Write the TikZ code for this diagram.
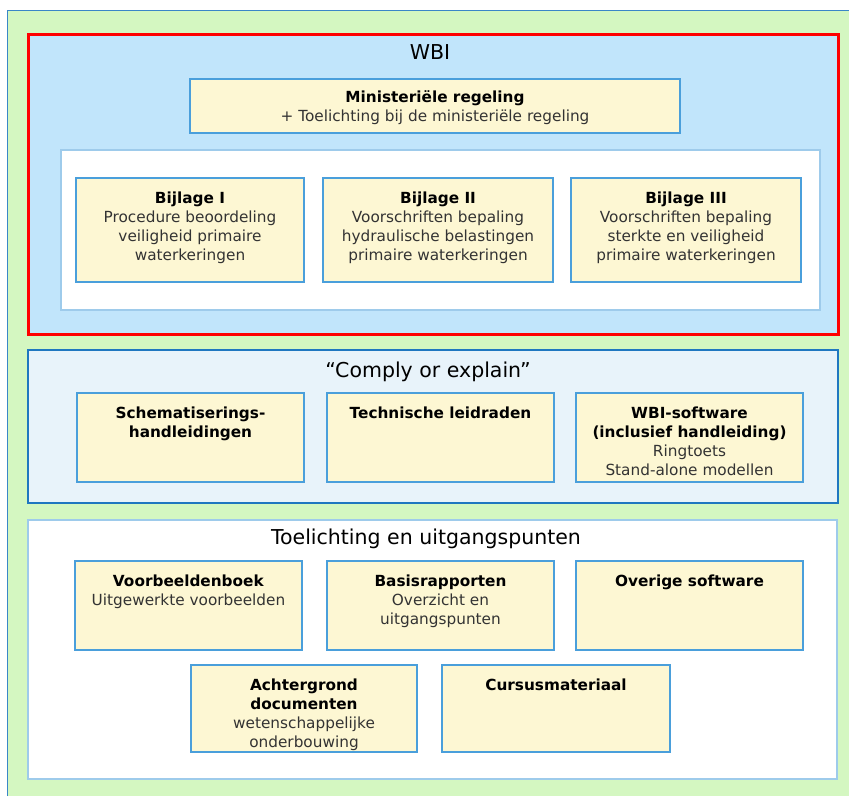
\documentclass[tikz,border=0pt]{standalone}
\usepackage{fontspec}
\setmainfont{DejaVu Sans}
\usetikzlibrary{positioning}
\definecolor{greenbg}{HTML}{D4F7C1}
\definecolor{outerline}{HTML}{3A86C8}
\definecolor{wbifill}{HTML}{C1E5FB}
\definecolor{wbired}{HTML}{FF0000}
\definecolor{boxfill}{HTML}{FDF7D3}
\definecolor{boxline}{HTML}{4A9FDB}
\definecolor{complyfill}{HTML}{E8F3FA}
\definecolor{complyline}{HTML}{1F77C0}
\definecolor{lightline}{HTML}{9ECBEB}
\definecolor{textgray}{HTML}{333333}
\tikzset{
  panel/.style={anchor=north west, inner sep=0pt, outer sep=0pt},
  itembox/.style={panel, draw=boxline, fill=boxfill, line width=1.4pt},
  itemtext/.style={anchor=north, inner sep=0pt, align=center, text=textgray,
     font=\fontsize{15.3}{19}\selectfont},
  headtext/.style={inner sep=0pt, text=black, font=\fontsize{20.5}{24}\selectfont},
}
\newcommand{\ttl}[1]{\textcolor{black}{\textbf{#1}}}
\begin{document}
\begin{tikzpicture}[x=1pt,y=-1pt]
\useasboundingbox (0,0) rectangle (849,796);
\fill[white] (0,0) rectangle (849,796);
\fill[greenbg] (7,10) rectangle (849,796);
\draw[outerline, line width=1pt] (7,796) -- (7,10) -- (849,10);

% WBI panel
\node[panel, draw=wbired, fill=wbifill, line width=3pt, minimum width=810pt, minimum height=300pt] (wbi) at (28,34) {};
\node[headtext] (wbititle) at (430,52) {WBI};
\node[itembox, minimum width=490pt, minimum height=54pt] (min) at (190,79) {};
\node[itemtext, below=11pt of min.north] (mintext) {\ttl{Ministeriële regeling}\\+ Toelichting bij de ministeriële regeling};
\node[panel, draw=lightline, fill=white, line width=1.2pt, minimum width=759pt, minimum height=160pt] (bpanel) at (61,150) {};
\node[itembox, minimum width=228pt, minimum height=104pt] (b1) at (76,178) {};
\node[itembox, minimum width=230pt, minimum height=104pt] (b2) at (323,178) {};
\node[itembox, minimum width=230pt, minimum height=104pt] (b3) at (571,178) {};
\node[itemtext, below=13.5pt of b1.north] (b1t) {\ttl{Bijlage I}\\Procedure beoordeling\\veiligheid primaire\\waterkeringen};
\node[itemtext, below=13.5pt of b2.north] (b2t) {\ttl{Bijlage II}\\Voorschriften bepaling\\hydraulische belastingen\\primaire waterkeringen};
\node[itemtext, below=13.5pt of b3.north] (b3t) {\ttl{Bijlage III}\\Voorschriften bepaling\\sterkte en veiligheid\\primaire waterkeringen};

% Comply or explain panel
\node[panel, draw=complyline, fill=complyfill, line width=2.6pt, minimum width=810pt, minimum height=153pt] (comply) at (28,350) {};
\node[headtext] (complytitle) at (428,372) {“Comply or explain”};
\node[itembox, minimum width=227pt, minimum height=89pt] (c1) at (77,393) {};
\node[itembox, minimum width=227pt, minimum height=89pt] (c2) at (327,393) {};
\node[itembox, minimum width=227pt, minimum height=89pt] (c3) at (576,393) {};
\node[itemtext, below=13.5pt of c1.north] (c1t) {\ttl{Schematiserings-}\\\ttl{handleidingen}};
\node[itemtext, below=13.5pt of c2.north] (c2t) {\ttl{Technische leidraden}};
\node[itemtext, below=13.5pt of c3.north] (c3t) {\ttl{WBI-software}\\\ttl{(inclusief handleiding)}\\Ringtoets\\Stand-alone modellen};

% Toelichting panel
\node[panel, draw=lightline, fill=white, line width=2.6pt, minimum width=809pt, minimum height=259pt] (toel) at (28,520) {};
\node[headtext] (toeltitle) at (426,539) {Toelichting en uitgangspunten};
\node[itembox, minimum width=227pt, minimum height=89pt] (t1) at (75,561) {};
\node[itembox, minimum width=227pt, minimum height=89pt] (t2) at (327,561) {};
\node[itembox, minimum width=227pt, minimum height=89pt] (t3) at (576,561) {};
\node[itembox, minimum width=226pt, minimum height=87pt] (t4) at (191,665) {};
\node[itembox, minimum width=228pt, minimum height=87pt] (t5) at (442,665) {};
\node[itemtext, below=13.5pt of t1.north] (t1t) {\ttl{Voorbeeldenboek}\\Uitgewerkte voorbeelden};
\node[itemtext, below=13.5pt of t2.north] (t2t) {\ttl{Basisrapporten}\\Overzicht en\\uitgangspunten};
\node[itemtext, below=13.5pt of t3.north] (t3t) {\ttl{Overige software}};
\node[itemtext, below=13.5pt of t4.north] (t4t) {\ttl{Achtergrond}\\\ttl{documenten}\\wetenschappelijke\\onderbouwing};
\node[itemtext, below=13.5pt of t5.north] (t5t) {\ttl{Cursusmateriaal}};
\end{tikzpicture}
\end{document}
